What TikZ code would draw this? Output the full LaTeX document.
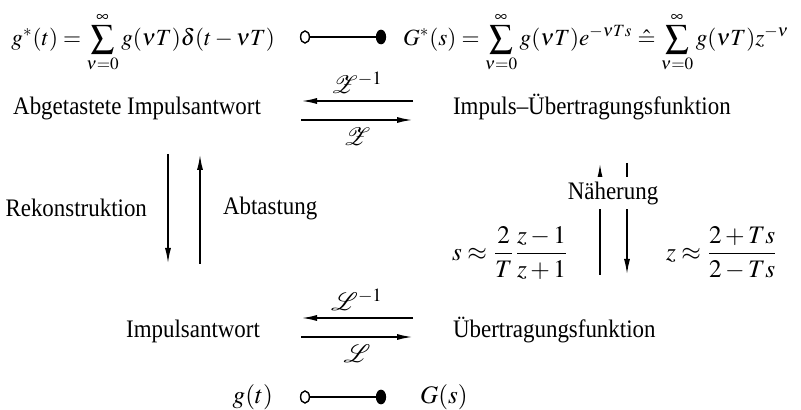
\documentclass[tikz,border=0pt]{standalone}
\usepackage{mathptmx}
\usepackage[no-math]{fontspec}
\setmainfont{Liberation Serif}[FakeStretch=0.91]
\usetikzlibrary{arrows.meta,shapes.geometric}
\tikzset{
  pfeil/.style={line width=0.9pt,-{Latex[length=8pt,width=3pt]}},
  hohl/.style={ellipse,draw,line width=0.7pt,fill=white,inner sep=0pt,minimum width=4.4pt,minimum height=6pt},
  voll/.style={hohl,fill=black,minimum height=6.6pt},
  korr/.style={line width=0.6pt},
  reihe/.style={font=\fontsize{11.6}{14}\selectfont}
}
\begin{document}
\begin{tikzpicture}[x=0.5pt,y=-0.5pt,font=\fontsize{12.6}{15}\selectfont]
\useasboundingbox (0,0) rectangle (801,410);

\node[reihe,anchor=base east] (gst) at (282,46) {$\displaystyle g^*(t) = \sum_{\nu=0}^{\infty} g(\nu T)\delta(t-\nu T)$};
\node[hohl] (o1) at (305,37) {};
\node[voll] (f1) at (381,37) {};
\draw[korr] (o1) -- (f1);
\node[reihe,anchor=base west] (Gst) at (396,46) {$\displaystyle G^*(s) = \sum_{\nu=0}^{\infty} g(\nu T)e^{-\nu Ts} \mathrel{\hat{=}} \sum_{\nu=0}^{\infty} g(\nu T)z^{-\nu}$};

\node[anchor=base east] (abg) at (268,115) {Abgetastete Impulsantwort};
\node[anchor=base west] (iuf) at (446,115) {Impuls–Übertragungsfunktion};
\coordinate (z1) at (301,101);
\coordinate (z2) at (413,101);
\coordinate (z3) at (301,120);
\coordinate (z4) at (413,120);
\draw[pfeil] (z2) -- node[above] {$\mathcal{Z}^{-1}$} (z1);
\draw[pfeil] (z3) -- node[below] {$\mathcal{Z}$} (z4);

\coordinate (r1) at (168,154);
\coordinate (r2) at (168,264);
\coordinate (a1) at (200,264);
\coordinate (a2) at (200,154);
\draw[pfeil] (r1) -- (r2);
\draw[pfeil] (a1) -- (a2);
\node[anchor=east] (rek) at (154,208) {Rekonstruktion};
\node[anchor=west] (abt) at (216,208) {Abtastung};

\coordinate (n1) at (600,275);
\coordinate (n2) at (600,163);
\coordinate (n3) at (627,163);
\coordinate (n4) at (627,275);
\draw[pfeil] (n1) -- (n2);
\draw[pfeil] (n3) -- (n4);
\node[fill=white,inner ysep=2.4pt,inner xsep=1pt] (nah) at (613,193) {Näherung};
\node[anchor=west] (sap) at (445,253) {$\displaystyle s \approx \frac{2}{T}\frac{z-1}{z+1}$};
\node[anchor=west] (zap) at (659,253) {$\displaystyle z \approx \frac{2+Ts}{2-Ts}$};

\node[anchor=base east] (ia) at (267,338) {Impulsantwort};
\node[anchor=base west] (uf) at (446,338) {Übertragungsfunktion};
\coordinate (l1) at (301,318);
\coordinate (l2) at (413,318);
\coordinate (l3) at (301,337);
\coordinate (l4) at (413,337);
\draw[pfeil] (l2) -- node[above] {$\mathcal{L}^{-1}$} (l1);
\draw[pfeil] (l3) -- node[below] {$\mathcal{L}$} (l4);

\node[anchor=base east] (gt) at (280,403) {$g(t)$};
\node[hohl] (o2) at (305,397) {};
\node[voll] (f2) at (381,397) {};
\draw[korr] (o2) -- (f2);
\node[anchor=base west] (Gs) at (413,403) {$G(s)$};
\end{tikzpicture}
\end{document}
